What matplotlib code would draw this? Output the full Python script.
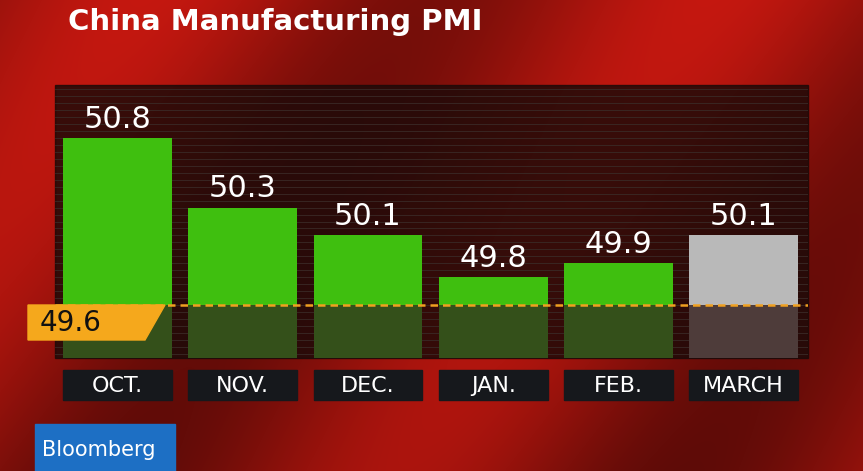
import matplotlib
matplotlib.use("Agg")
import matplotlib.pyplot as plt
import numpy as np
from matplotlib.patches import Rectangle, Polygon
import matplotlib.transforms as mtransforms

months = ["OCT.", "NOV.", "DEC.", "JAN.", "FEB.", "MARCH"]
values = [50.8, 50.3, 50.1, 49.8, 49.9, 50.1]
colors = ["#3fbf0f"] * 5 + ["#b9b9b9"]
threshold = 49.6

W, H = 863, 471
fig = plt.figure(figsize=(W / 100, H / 100), dpi=100)

# background
bg = fig.add_axes([0, 0, 1, 1])
yy, xx = np.mgrid[0:H, 0:W]
r = 0.62 + 0.15 * np.sin(xx / 90.0 + yy / 140.0) - 0.1 * (yy / H)
img = np.dstack([np.clip(r, 0, 1), np.clip(r * 0.12, 0, 1), np.clip(r * 0.08, 0, 1)])
bg.imshow(img, extent=[0, W, H, 0], aspect="auto")
bg.set_xlim(0, W); bg.set_ylim(H, 0); bg.axis("off")
bg.text(68, 22, "China Manufacturing PMI", color="white", fontsize=21,
        fontweight="bold", va="center", ha="left")
bg.add_patch(Rectangle((35, 424), 140, 47, color="#1d6fc4"))
bg.text(42, 450, "Bloomberg", color="white", fontsize=15, va="center", ha="left")
bg.add_patch(Rectangle((55, 85), 753, 273, color="#1a0a08", alpha=0.82))

ax = fig.add_axes([55 / W, (H - 358) / H, 753 / W, 273 / H])
ax.patch.set_alpha(0)
ymin, ymax = 49.22, 51.18
ax.set_xlim(-0.5, 5.515)
ax.set_ylim(ymin, ymax)
ax.axis("off")
x = np.arange(len(months))
for yv in np.arange(49.25, 51.2, 0.05):
    ax.axhline(yv, color="#3a2a26", lw=0.6, zorder=0)
ax.bar(x, np.array(values) - threshold, bottom=threshold, width=0.87, color=colors, zorder=2)
lower = ["#34501a"] * 5 + ["#4e3c3a"]
ax.bar(x, threshold - ymin, bottom=ymin, width=0.87, color=lower, zorder=2)
for xi, v in zip(x, values):
    ax.text(xi, v + 0.03, f"{v}", ha="center", va="bottom", color="white", fontsize=22, zorder=3)
ax.axhline(threshold, color="#f0a020", lw=1.8, ls=(0, (3, 2)), zorder=4)

# overlay for threshold tag and month boxes
top = fig.add_axes([0, 0, 1, 1])
top.patch.set_alpha(0)
top.set_xlim(0, W); top.set_ylim(H, 0); top.axis("off")
top.add_patch(Polygon([(28, 305), (165, 305), (145, 340), (28, 340)], color="#f5a81c"))
top.text(40, 323, f"{threshold}", color="#111111", fontsize=20, va="center", ha="left")

trans = mtransforms.blended_transform_factory(ax.transData, top.transData)
for xi, m in zip(x, months):
    top.add_patch(Rectangle((xi - 0.435, 370), 0.87, 30, transform=trans, color="#16181c"))
    top.text(xi, 386, m, transform=trans, ha="center", va="center", color="white", fontsize=16)

fig.savefig("out.png", dpi=100)
